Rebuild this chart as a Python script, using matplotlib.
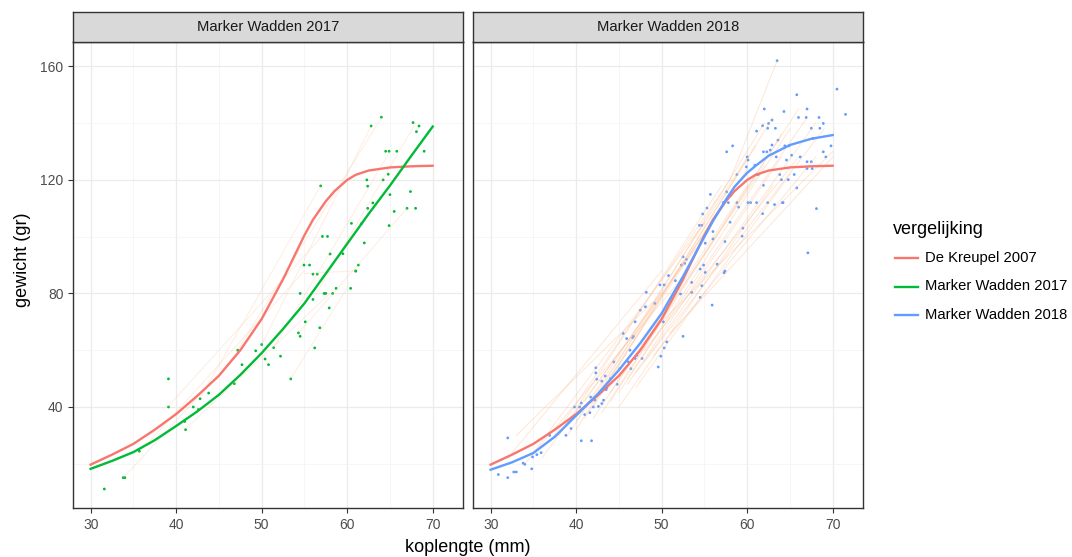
import numpy as np
import matplotlib
matplotlib.use('Agg')
import matplotlib.pyplot as plt
from matplotlib.lines import Line2D
from matplotlib.ticker import MultipleLocator

plt.rcParams['font.family'] = ['Liberation Sans', 'DejaVu Sans']

### Colours ###
RED = '#F8766D'
GREEN = '#00BA38'
BLUE = '#619CFF'
FAINT = '#FDB98A'

### Fitted curves (koplengte in mm, gewicht in gr) ###
kreupel_x = [30, 32.5, 35, 37.5, 40, 42.5, 45, 47.5, 50, 52.5, 55, 56, 57.5, 58.5, 60, 61, 62.5, 65, 67.5, 70]
kreupel_y = [19.7, 23.2, 27.0, 32.0, 37.5, 44.0, 51.0, 60.0, 71.0, 85.0, 100.5, 106.0, 112.5, 116.0, 120.0, 121.8, 123.3, 124.4, 124.8, 125.0]

mw2017_x = [30, 32.5, 35, 37.5, 40, 42.5, 45, 47.5, 50, 52.5, 55, 57.5, 60, 62.5, 65, 67.5, 70]
mw2017_y = [18.2, 21.0, 24.1, 28.3, 33.3, 38.5, 44.3, 51.3, 59.0, 67.5, 76.5, 87.0, 97.5, 108.0, 118.0, 128.5, 138.8]

mw2018_x = [30, 32.5, 35, 37.5, 40, 42.5, 45, 47.5, 50, 52.5, 55, 56, 57.5, 58.5, 60, 61, 62.5, 65, 67.5, 70]
mw2018_y = [17.9, 20.5, 23.8, 29.5, 37.0, 44.5, 53.0, 62.5, 73.0, 86.0, 100.0, 105.5, 113.0, 117.5, 122.5, 125.0, 128.5, 132.3, 134.5, 135.8]

### Measured fish ###
pts2017_x = [31.6, 33.8, 34.0, 35.7, 39.1, 39.1, 41.1, 41.0, 42.0, 42.6, 42.8, 43.8, 46.8, 47.2, 47.7,
             49.3, 50.0, 50.4, 50.8, 51.4, 52.2, 53.4, 54.3, 54.5, 55.1, 56.0, 56.2, 56.8, 54.5, 57.3,
             57.5, 58.3, 57.9, 58.7, 60.4, 56.0, 56.5, 61.0, 64.0, 62.8, 67.7, 68.4, 68.1, 64.5, 64.9,
             65.8, 69.0, 56.9, 62.3, 62.4, 64.2, 64.8, 67.4, 65.0, 67.0, 68.0, 65.5, 62.4, 63.0, 64.9,
             60.5, 61.7, 57.1, 57.7, 62.0, 58.0, 59.5, 54.95, 55.6, 61.3, 61.0]
pts2017_y = [11.1, 15.1, 15.1, 24.4, 49.9, 40.0, 32.0, 34.9, 40.0, 39.1, 42.9, 44.9, 48.2, 60.0, 54.9,
             59.8, 62.0, 56.9, 54.9, 60.9, 57.9, 49.9, 66.1, 64.9, 70.0, 77.9, 60.8, 67.9, 80.0, 80.0,
             80.0, 80.0, 74.9, 81.8, 81.8, 86.8, 86.8, 87.9, 142.1, 139.0, 140.2, 139.0, 137.0, 130.1, 130.1,
             130.1, 130.1, 117.9, 120.0, 117.8, 120.0, 122.0, 115.9, 114.8, 110.0, 110.0, 108.9, 110.0, 111.9, 103.9,
             104.7, 104.7, 100.1, 100.1, 97.8, 93.9, 94.0, 90.0, 90.0, 90.0, 87.9]

pts2018_x = [30.9, 32.0, 32.0, 32.7, 33.0, 33.8, 34.0, 34.8, 34.9, 35.4, 35.9, 36.9, 38.8, 39.4, 39.8,
             40.6, 41.8, 40.4, 40.6, 41.0, 41.6, 41.7, 42.0, 42.2, 42.3, 42.3, 42.4, 42.6, 43.0, 43.2,
             43.0, 43.4, 43.5, 43.6, 44.0, 44.4, 44.8, 45.1, 45.5, 45.9, 46.1, 46.3, 46.4, 46.6, 46.7,
             46.9, 46.9, 47.1, 47.5, 47.7, 48.1, 49.2, 49.6, 49.9, 50.3, 50.6, 52.5, 50.2, 55.9, 57.4,
             63.5, 65.8, 70.5, 71.5, 62.0, 64.3, 67.0, 66.0, 66.9, 68.4, 62.9, 62.5, 61.8, 61.1, 62.4,
             63.3, 67.5, 68.5, 68.9, 58.3, 57.6, 63.6, 62.9, 62.7, 64.4, 64.9, 61.9, 62.3, 63.4, 65.2,
             66.2, 60.0, 60.1, 60.9, 59.9, 64.6, 67.0, 67.5, 67.0, 67.6, 68.9, 69.2, 69.8, 67.7, 58.8,
             61.1, 61.3, 63.8, 65.5, 64.0, 64.8, 61.9, 65.8, 55.7, 57.6, 58.1, 57.2, 57.8, 58.8, 59.0,
             60.1, 60.4, 61.1, 62.4, 63.2, 64.1, 64.2, 68.1, 61.8, 54.8, 55.3, 54.4, 54.7, 58.0, 59.5,
             59.4, 56.0, 56.0, 57.4, 55.1, 52.5, 52.9, 52.3, 52.7, 54.9, 56.5, 57.3, 54.5, 55.1, 67.1,
             50.8, 51.6, 53.5, 54.7, 52.2, 48.2, 49.8, 50.3, 53.5, 54.5]
pts2018_y = [16.2, 15.1, 29.1, 17.1, 17.1, 20.2, 19.8, 18.2, 22.4, 23.2, 23.9, 30.0, 30.0, 32.4, 40.0,
             28.1, 28.1, 40.0, 41.4, 37.3, 38.0, 43.5, 40.0, 42.4, 52.0, 53.8, 49.8, 40.2, 41.2, 42.4,
             49.1, 50.9, 46.1, 46.8, 50.0, 55.9, 48.0, 53.5, 65.9, 64.1, 55.9, 60.0, 53.5, 64.4, 64.9,
             70.0, 57.1, 58.2, 74.1, 57.1, 75.3, 76.5, 54.1, 57.9, 60.8, 62.9, 64.9, 70.0, 75.9, 87.9,
             162.0, 150.0, 152.0, 143.1, 145.0, 144.1, 145.0, 142.0, 142.0, 142.0, 141.1, 139.9, 139.1, 137.2, 138.2,
             138.2, 138.2, 138.2, 139.9, 132.0, 129.9, 134.0, 132.3, 130.5, 132.0, 132.0, 129.9, 129.9, 128.1, 128.7,
             128.1, 128.1, 127.0, 125.2, 124.6, 127.0, 126.4, 126.4, 124.0, 124.0, 129.9, 128.1, 132.0, 134.6, 121.9,
             121.9, 121.9, 121.9, 121.9, 120.1, 120.1, 118.1, 117.2, 114.9, 115.8, 114.6, 112.0, 112.0, 112.0, 110.4,
             112.0, 112.0, 112.0, 112.0, 111.3, 112.0, 112.0, 109.9, 108.1, 108.0, 110.1, 104.0, 104.0, 105.1, 103.0,
             100.2, 101.8, 99.2, 98.3, 97.7, 92.9, 92.0, 90.0, 90.6, 90.0, 90.3, 87.3, 88.6, 87.4, 94.3,
             86.3, 84.5, 83.9, 82.7, 79.8, 80.4, 83.0, 83.0, 80.4, 78.6]

### Individual growth tracks (start and end of each fish) ###
tracks2017 = [[(33.8, 15), (47, 58)], [(35.7, 24), (55, 88)], [(39, 40), (57, 100)], [(41, 32), (58, 80)],
              [(42.8, 43), (56.9, 118)], [(47.2, 60), (64, 142)], [(50, 62), (62.8, 139)], [(51.4, 61), (65, 130)],
              [(54.3, 66), (67, 110)], [(55, 87), (61, 88)], [(53.4, 50), (60, 82)], [(56, 78), (68, 140)]]
tracks2018 = [[(32, 22), (50, 88)], [(34, 20), (52, 84)], [(35, 24), (55, 105)], [(37, 28), (58, 120)],
              [(38, 30), (57, 118)], [(40, 35), (60, 128)], [(40, 32), (62, 140)], [(41, 36), (61, 132)],
              [(42, 40), (63, 142)], [(43, 38), (64, 136)], [(44, 42), (66, 145)], [(45, 45), (65, 138)],
              [(46, 50), (67, 142)], [(47, 52), (68, 140)], [(48, 56), (69, 138)], [(44, 45), (62, 125)],
              [(42, 36), (60, 118)], [(46, 48), (64, 128)], [(50, 70), (70, 130)], [(48, 60), (66, 128)],
              [(58, 120), (63.5, 162)], [(36, 22), (54, 96)], [(39, 30), (56, 106)], [(45, 40), (63, 118)],
              [(47, 47), (65, 122)], [(49, 58), (68, 128)], [(51, 66), (70, 128)], [(43, 46), (60, 124)],
              [(41, 42), (58, 114)], [(33, 30), (50, 80)]]

panels = ['Marker Wadden 2017', 'Marker Wadden 2018']
legend_labels = ['De Kreupel 2007', 'Marker Wadden 2017', 'Marker Wadden 2018']

### Layout in pixels ###
W, H = 1072, 557
fig = plt.figure(figsize=(W / 100, H / 100), dpi=100)
fig.patch.set_facecolor('white')

panel_left = [73.3, 473.3]
panel_w = 390
panel_top, panel_bottom, strip_top = 41.7, 508.3, 12.3

axes = []
for i, name in enumerate(panels):
    ax = fig.add_axes([panel_left[i] / W, (H - panel_bottom) / H, panel_w / W, (panel_bottom - panel_top) / H])
    ax.set_xlim(27.97, 73.58)
    ax.set_ylim(4.3, 168.7)
    ax.xaxis.set_major_locator(MultipleLocator(10))
    ax.xaxis.set_minor_locator(MultipleLocator(5))
    ax.set_yticks([40, 80, 120, 160])
    ax.yaxis.set_minor_locator(MultipleLocator(20))
    ax.grid(which='major', color='#EBEBEB', linewidth=0.9)
    ax.grid(which='minor', color='#F3F3F3', linewidth=0.5)
    ax.set_axisbelow(True)
    for s in ax.spines.values():
        s.set_color('#333333')
        s.set_linewidth(1.0)
    ax.tick_params(which='major', length=3.5, width=0.8, color='#333333', labelcolor='#4D4D4D', labelsize=10)
    ax.tick_params(which='minor', length=0)
    if i == 1:
        ax.tick_params(axis='y', which='major', length=0, labelleft=False)

    # strip with the panel name
    sax = fig.add_axes([panel_left[i] / W, (H - panel_top) / H, panel_w / W, (panel_top - strip_top) / H])
    sax.set_facecolor('#D9D9D9')
    sax.set_xticks([])
    sax.set_yticks([])
    for s in sax.spines.values():
        s.set_color('#333333')
        s.set_linewidth(1.0)
    sax.text(0.5, 0.5, name, ha='center', va='center', fontsize=10.6, color='#1A1A1A', transform=sax.transAxes)
    axes.append(ax)

ax1, ax2 = axes

# 2017 panel
for (x0, y0), (x1, y1) in tracks2017:
    ax1.plot([x0, x1], [y0, y1], color=FAINT, linewidth=0.7, alpha=0.25)
ax1.scatter(pts2017_x, pts2017_y, s=4, color=GREEN, edgecolors='none')
ax1.plot(kreupel_x, kreupel_y, color=RED, linewidth=1.7)
ax1.plot(mw2017_x, mw2017_y, color=GREEN, linewidth=1.7)

# 2018 panel
for (x0, y0), (x1, y1) in tracks2018:
    ax2.plot([x0, x1], [y0, y1], color=FAINT, linewidth=0.7, alpha=0.35)
ax2.scatter(pts2018_x, pts2018_y, s=4, color=BLUE, edgecolors='none')
ax2.plot(kreupel_x, kreupel_y, color=RED, linewidth=1.7)
ax2.plot(mw2018_x, mw2018_y, color=BLUE, linewidth=1.7)

# axis titles
fig.text(468 / W, 1 - 548 / H, 'koplengte (mm)', ha='center', va='center', fontsize=13)
fig.text(23 / W, 1 - 260 / H, 'gewicht (gr)', ha='center', va='center', rotation=90, fontsize=13)

# legend
fig.text(893 / W, 1 - 229 / H, 'vergelijking', ha='left', va='center', fontsize=13)
for k, (lab, col) in enumerate(zip(legend_labels, [RED, GREEN, BLUE])):
    yk = 1 - (258 + 28.5 * k) / H
    fig.add_artist(Line2D([895 / W, 918 / W], [yk, yk], color=col, linewidth=1.7, transform=fig.transFigure))
    fig.text(925 / W, yk, lab, ha='left', va='center', fontsize=10.6)

fig.savefig('out.png', dpi=100)
